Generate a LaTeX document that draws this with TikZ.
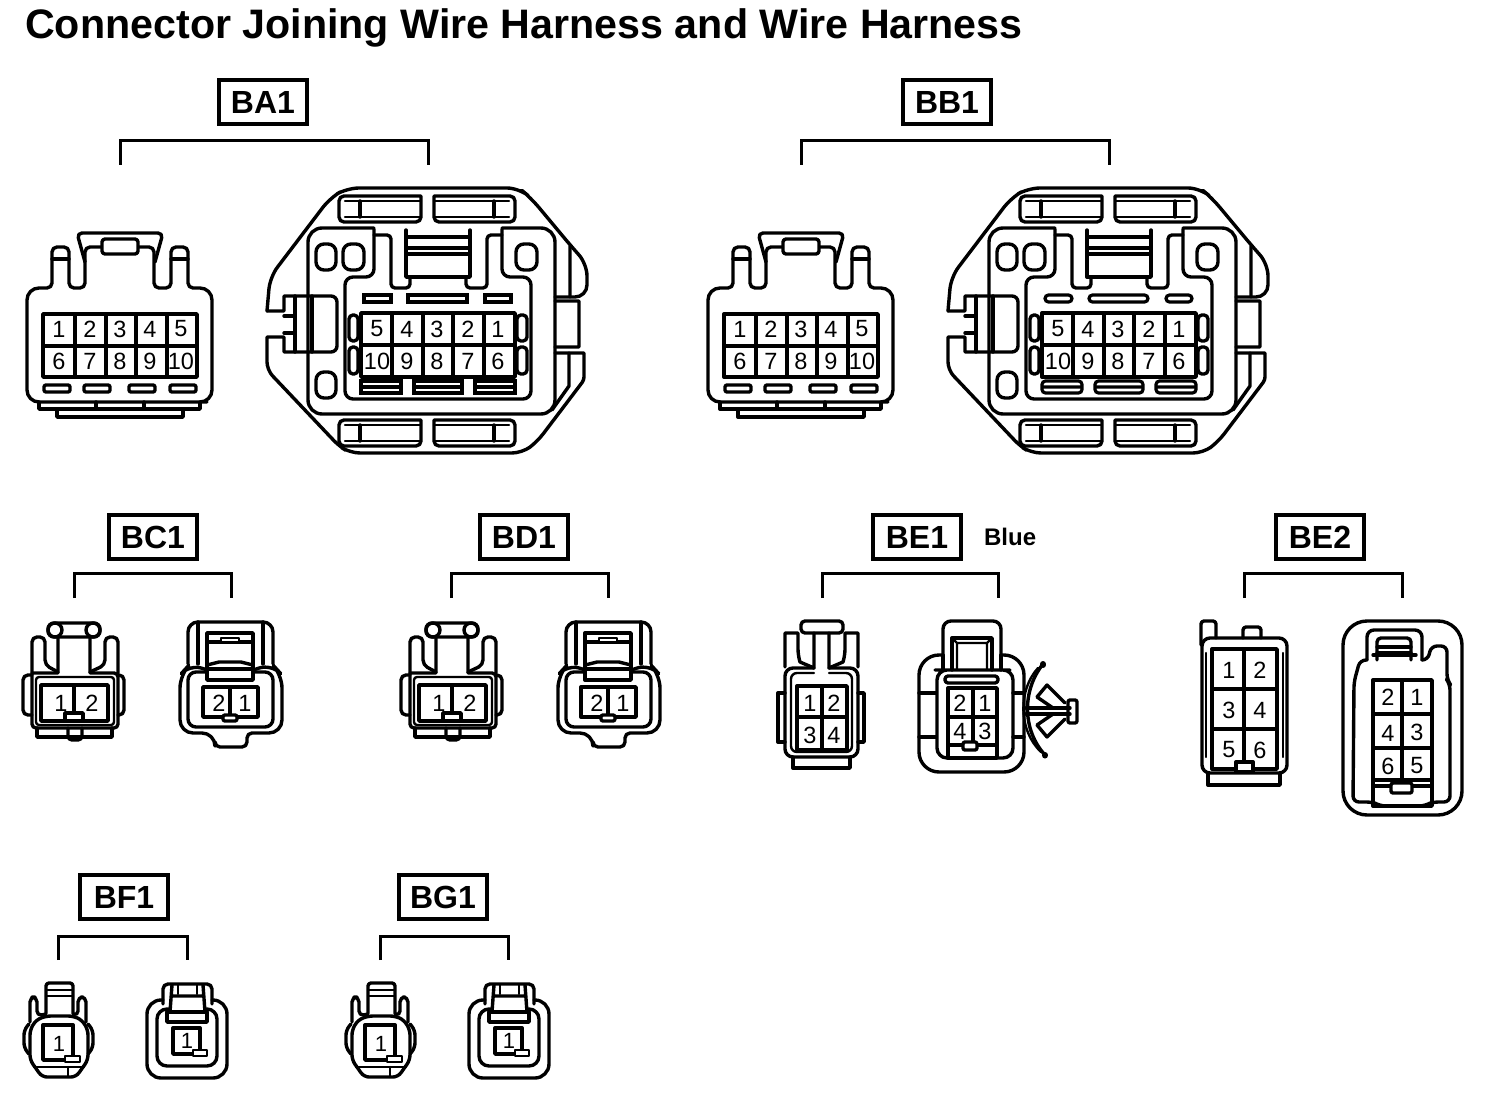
\documentclass[tikz,border=0pt]{standalone}
\usepackage{fontspec}
\setmainfont{Liberation Sans}
\usetikzlibrary{positioning}
\tikzset{
    hsg/.style={draw, line width=3.4pt, line join=round, line cap=round},
    thinhsg/.style={draw, line width=2.4pt, line join=round, line cap=round},
    slitbox/.style={draw, line width=3.2pt},
    pinlabel/.style={inner sep=0pt, font=\fontsize{23.5}{24}\selectfont},
    tagbox/.style={draw, line width=3.8pt, minimum width=88pt, minimum height=44pt, inner sep=0pt, font=\fontsize{32}{32}\selectfont\bfseries},
    % ten way plug, seen from the mating face
    tenplug/.pic={
        \draw[hsg] (44,402) [rounded corners=12] -- (27,402) -- (27,288) [rounded corners=5] -- (52,288) -- (52,247) -- (69,247) -- (69,288) -- (85,288) -- (85,247) -- (154,247) -- (154,288) -- (171,288) -- (171,247) -- (188,247) -- (188,288) [rounded corners=12] -- (212,288) -- (212,402) -- (195,402) [sharp corners] -- cycle;
        \draw[hsg, rounded corners=5] (85,262) -- (77,233) -- (163,233) -- (155,262);
        \draw[hsg, rounded corners=3, fill=white] (102,239) rectangle (138,254);
        \draw[hsg] (52,259) -- (69,259) (171,259) -- (188,259);
        \draw[hsg] (39,402) -- (39,409) -- (200,409) -- (200,402) (57,409) -- (57,417) -- (183,417) -- (183,409) (96,402) -- (96,409) (144,402) -- (144,409);
        \draw[hsg] (43,314) rectangle (197,377) (43,346) -- (197,346);
        \foreach \gridx in {75,106,136,167} \draw[hsg] (\gridx,314) -- (\gridx,377);
        \foreach \slitl in {44,84,129,170} \draw[hsg, rounded corners=2] (\slitl,385) rectangle +(26,7);
        \foreach \pinnum/\pinx/\piny in {1/59/329,2/90/329,3/120/329,4/150/329,5/181/329,6/59/361,7/90/361,8/120/361,9/150/361,10/181/361}
            \node[pinlabel] (pin\pinnum) at (\pinx,\piny) {\pinnum};
    },
    % ten way socket with its mounting frame
    tensocket/.pic={
        \draw[hsg] (267,311) -- (284,311) -- (284,296) [rounded corners=6] -- (337,296) -- (337,352) [sharp corners] -- (284,352) -- (284,337) -- (267,337) [rounded corners=8] -- (267,370) -- (339,446) [rounded corners=10] -- (350,453) -- (522,453) -- (537,442) [rounded corners=3] -- (584,380) [sharp corners] -- (584,353) -- (555,353);
        \draw[hsg, rounded corners=12] (555,297) -- (587,297) -- (587,264) -- (571,246) -- (531,198) -- (519,188) -- (347,188) -- (330,198) -- (270,277) -- (267,311);
        \draw[hsg] (555,301) -- (579,301) -- (579,347) -- (555,347) (570,246) -- (570,297) (569,353) -- (569,386) -- (552,410);
        \draw[hsg] (295,296) -- (295,352) (312,296) -- (312,352) (284,316) -- (295,316) (284,333) -- (295,333);
        % top and bottom clips
        \foreach \clipy in {196,420} {
            \draw[hsg, rounded corners=5] (421,\clipy) -- (339,\clipy) -- (339,\clipy+26) -- (421,\clipy+26) [sharp corners] -- cycle;
            \draw[hsg, rounded corners=5] (434,\clipy) -- (515,\clipy) -- (515,\clipy+26) -- (434,\clipy+26) [sharp corners] -- cycle;
            \draw[thinhsg] (345,\clipy+5) -- (421,\clipy+5) (345,\clipy+21) -- (421,\clipy+21) (434,\clipy+5) -- (509,\clipy+5) (434,\clipy+21) -- (509,\clipy+21);
            \draw[hsg] (360,\clipy+5) -- (360,\clipy+21) (494,\clipy+5) -- (494,\clipy+21);
        }
        % inner frame and housing
        \draw[hsg, rounded corners=14] (374,228) -- (308,228) -- (308,414) -- (555,414) -- (555,228) -- (502,228);
        \draw[hsg, rounded corners=8] (374,229) -- (374,277) -- (345,277) -- (345,399) -- (531,399) -- (531,277) -- (502,277) -- (502,229);
        \draw[hsg, rounded corners=4] (374,235) -- (391,235) -- (391,288) -- (410,288) -- (410,277);
        \draw[hsg, rounded corners=4] (466,277) -- (466,288) -- (487,288) -- (487,235) -- (502,235);
        \draw[hsg] (406,230) -- (406,277) -- (470,277) -- (470,230) (406,237) -- (470,237) (406,248) -- (470,248) (406,254) -- (470,254);
        \draw[hsg, rounded corners=8] (316,244) rectangle (336,270) (343,244) rectangle (364,270) (516,244) rectangle (537,270) (316,372) rectangle (336,398);
        \draw[slitbox, slitround] (364,295) rectangle (391,302) (408,295) rectangle (467,302) (485,295) rectangle (511,302);
        \draw[hsg, rounded corners=4] (349,315) rectangle (358,341) (349,347) rectangle (358,374) (517,315) rectangle (527,341) (517,347) rectangle (527,374);
        \foreach \slitl/\slitr in {361/401,414/462,475/515} \draw[slitbox, slitround] (\slitl,381) rectangle (\slitr,393) (\slitl,387) -- (\slitr,387);
        \draw[hsg] (361,313) rectangle (515,377) (361,345) -- (515,345);
        \foreach \gridx in {392,423,453,484} \draw[hsg] (\gridx,313) -- (\gridx,377);
        \foreach \pinnum/\pinx/\piny in {5/377/329,4/407/329,3/437/329,2/468/329,1/498/329,10/377/361,9/407/361,8/437/361,7/468/361,6/498/361}
            \node[pinlabel] (pin\pinnum) at (\pinx,\piny) {\pinnum};
    },
    % two way plug
    twoplug/.pic={
        \draw[hsg, rounded corners=6] (48,623) rectangle (100,637);
        \draw[hsg, fill=white] (55,630) circle (7) (93,630) circle (7);
        \draw[hsg] (58,637) -- (58,673) -- (32,673) [rounded corners=4] -- (32,728) -- (118,728) -- (118,673) [sharp corners] -- (90,673) -- (90,637);
        \draw[thinhsg, rounded corners=3] (36,677) rectangle (114,725);
        \draw[hsg, rounded corners=5] (32,673) -- (32,637) -- (45,637) -- (45,665) -- (58,672);
        \draw[hsg, rounded corners=5] (118,673) -- (118,637) -- (105,637) -- (105,665) -- (90,672);
        \draw[hsg, rounded corners=5] (32,675) -- (23,675) -- (23,715) -- (32,715);
        \draw[hsg, rounded corners=5] (118,675) -- (124,675) -- (124,715) -- (118,715);
        \draw[hsg] (37,728) -- (37,737) -- (112,737) -- (112,728);
        \draw[hsg, rounded corners=4] (68,728) -- (68,740) -- (82,740) -- (82,728);
        \draw[hsg] (41,685) rectangle (108,721) (74,685) -- (74,713);
        \draw[hsg, fill=white] (65,713) rectangle (83,721);
        \node[pinlabel] (pin1) at (61,703) {1};
        \node[pinlabel] (pin2) at (92,703) {2};
    },
    % two way socket
    twosocket/.pic={
        \draw[hsg, rounded corners=10] (188,664) -- (188,622) -- (273,622) -- (273,664);
        \draw[hsg, rounded corners=10] (198,664) -- (198,622) (263,622) -- (263,664);
        \draw[hsg, rounded corners=13] (207,670) -- (190,664) -- (180,675) -- (180,733) -- (215,733) [rounded corners=5] -- (215,747) -- (247,747) -- (247,733) [rounded corners=13] -- (282,733) -- (282,675) -- (272,664) -- (253,670);
        \draw[hsg, rounded corners=8] (207,672) -- (188,672) -- (188,727) -- (273,727) -- (273,672) -- (253,672);
        \draw[hsg] (207,633) rectangle (253,680) (207,642) -- (253,642) (207,669) -- (253,669);
        \draw[hsg] (207,665) -- (219,662) -- (241,662) -- (253,665);
        \draw[thinhsg, fill=white] (221,638) rectangle (239,642);
        \draw[hsg] (203,687) rectangle (258,717) (230,687) -- (230,717);
        \draw[hsg, rounded corners=2, fill=white] (223,715) rectangle (237,721);
        \node[pinlabel] (pin2) at (219,703) {2};
        \node[pinlabel] (pin1) at (245,703) {1};
    },
    % one way plug
    oneplug/.pic={
        \draw[hsg, rounded corners=3] (46,1013) -- (46,983) -- (73,983) -- (73,1013);
        \draw[thinhsg] (46,990) -- (73,990) (46,996) -- (73,996);
        \draw[hsg, rounded corners=5] (46,1014) -- (37,1016) -- (37,997) -- (30,997) -- (30,1022);
        \draw[hsg, rounded corners=5] (73,1014) -- (78,1016) -- (78,997) -- (86,997) -- (86,1022);
        \draw[hsg, rounded corners=5] (46,1016) -- (36,1020) -- (30,1030) -- (30,1060) -- (42,1077) -- (76,1077) -- (88,1060) -- (88,1030) -- (82,1020) -- (73,1016) -- cycle;
        \draw[hsg, rounded corners=5] (29,1024) -- (24,1030) -- (24,1048) -- (29,1054);
        \draw[hsg, rounded corners=5] (88,1024) -- (93,1030) -- (93,1048) -- (88,1054);
        \draw[thinhsg] (34,1067) -- (84,1067) (68,1067) -- (68,1077);
        \draw[hsg] (43,1025) rectangle (73,1060);
        \draw[thinhsg, fill=white] (65,1056) rectangle (80,1062);
        \node[pinlabel, font=\fontsize{22}{22}\selectfont] (pin1) at (59,1044) {1};
    },
    % one way socket
    onesocket/.pic={
        \draw[hsg, rounded corners=14] (163,1000) -- (147,1000) -- (147,1078) -- (227,1078) -- (227,1000) -- (212,1000);
        \draw[hsg, rounded corners=5] (163,1004) -- (163,984) -- (212,984) -- (212,1004);
        \draw[hsg, rounded corners=10] (170,1009) -- (157,1009) -- (157,1066) -- (217,1066) -- (217,1009) -- (205,1009);
        \draw[hsg] (172,985) -- (170,1012) (203,985) -- (205,1012) (172,996) -- (203,996);
        \draw[thinhsg] (178,985) -- (178,994) (197,985) -- (197,994);
        \draw[hsg] (167,1012) rectangle (207,1022);
        \draw[hsg] (173,1028) rectangle (200,1054);
        \draw[thinhsg, fill=white] (193,1050) rectangle (207,1056);
        \node[pinlabel, font=\fontsize{22}{22}\selectfont] (pin1) at (187,1041) {1};
    },
    slitround/.style={}
}
% tag with the bracket below it
\newcommand{\tagbracket}[8]{
    \node[tagbox] (#1) at (#3,#4) {#2};
    \coordinate (#1l) at (#5,#8);
    \coordinate (#1r) at (#6,#8);
    \coordinate (#1t) at (#5,#7);
    \draw[draw, line width=3pt] (#1l) -- (#1t) -- (#1t-|#1r) -- (#1r);
}

\begin{document}
\begin{tikzpicture}[x=1pt, y=-1pt]
    \useasboundingbox (0,0) rectangle (1504,1110);
    \fill[white] (0,0) rectangle (1504,1110);
    \node[anchor=west, inner sep=0pt, font=\fontsize{41.2}{41.2}\selectfont\bfseries] (title) at (25,28) {Connector Joining Wire Harness and Wire Harness};

    \tagbracket{ba1}{BA1}{263}{102}{120}{428}{141}{165}
    \tagbracket{bb1}{BB1}{947}{102}{801}{1109}{141}{165}
    \tagbracket{bc1}{BC1}{153}{537}{74}{231}{573}{598}
    \tagbracket{bd1}{BD1}{524}{537}{451}{608}{573}{598}
    \tagbracket{be1}{BE1}{917}{537}{822}{998}{573}{598}
    \tagbracket{be2}{BE2}{1320}{537}{1244}{1402}{573}{598}
    \tagbracket{bf1}{BF1}{124}{897}{58}{187}{936}{960}
    \tagbracket{bg1}{BG1}{443}{897}{380}{508}{936}{960}
    \node[inner sep=0pt, font=\fontsize{24}{24}\selectfont\bfseries, right=21pt of be1] (bluetag) {Blue};

    \pic (ba1plug) {tenplug};
    \pic (ba1socket) {tensocket};
    \begin{scope}[shift={(681,0)}, slitround/.style={rounded corners=3.5}]
        \pic (bb1plug) {tenplug};
        \pic (bb1socket) {tensocket};
    \end{scope}

    \pic (bc1plug) {twoplug};
    \pic (bc1socket) {twosocket};
    \begin{scope}[shift={(378,0)}]
        \pic (bd1plug) {twoplug};
        \pic (bd1socket) {twosocket};
    \end{scope}

    % BE1 plug
    \draw[hsg, rounded corners=4] (801,621) rectangle (843,633);
    \draw[hsg] (814,633) -- (814,668) -- (800,662) [rounded corners=6] -- (798,655) [sharp corners] -- (798,633) -- (785,633) -- (785,667);
    \draw[hsg] (829,633) -- (829,668) -- (843,662) [rounded corners=6] -- (845,655) [sharp corners] -- (845,633) -- (858,633) -- (858,667);
    \draw[hsg, rounded corners=8] (814,668) -- (785,668) -- (785,757) -- (858,757) -- (858,668) -- (829,668);
    \draw[thinhsg, rounded corners=6] (814,673) -- (791,673) -- (791,752) -- (852,752) -- (852,673) -- (829,673);
    \draw[hsg] (785,693) -- (778,693) -- (778,742) -- (785,742) (858,693) -- (864,693) -- (864,742) -- (858,742);
    \draw[hsg] (793,757) -- (793,768) -- (850,768) -- (850,757);
    \draw[hsg] (797,686) rectangle (847,750) (822,686) -- (822,750) (797,717) -- (847,717);
    \node[pinlabel] (be1pin1) at (810,703) {1};
    \node[pinlabel] (be1pin2) at (834,703) {2};
    \node[pinlabel] (be1pin3) at (810,735) {3};
    \node[pinlabel] (be1pin4) at (834,735) {4};

    % BE1 socket
    \draw[hsg, rounded corners=8] (943,660) -- (943,621) -- (1001,621) -- (1001,660);
    \draw[hsg] (952,670) -- (952,638) -- (992,638) -- (992,670);
    \draw[thinhsg] (957,670) -- (957,643) -- (987,643) -- (987,670) (957,643) -- (952,638) (987,643) -- (992,638);
    \draw[hsg, rounded corners=20] (943,655) -- (919,655) -- (919,772) -- (1024,772) -- (1024,655) -- (1001,655);
    \draw[hsg] (943,655) -- (943,670) (1001,655) -- (1001,670);
    \draw[hsg, rounded corners=10] (945,670) -- (937,670) -- (937,758) -- (1013,758) -- (1013,670) -- (1000,670) -- cycle;
    \draw[hsg] (919,693) -- (936,693) (919,737) -- (936,737) (1013,693) -- (1024,693) (1013,737) -- (1024,737);
    \draw[hsg, rounded corners=3] (945,676) rectangle (998,683);
    \draw[hsg] (948,688) rectangle (997,758) (973,688) -- (973,745) (948,717) -- (997,717) (948,745) -- (997,745);
    \draw[hsg, rounded corners=2, fill=white] (963,742) rectangle (977,750);
    \node[pinlabel] (be1pin2s) at (960,703) {2};
    \node[pinlabel] (be1pin1s) at (985,703) {1};
    \node[pinlabel] (be1pin4s) at (960,731) {4};
    \node[pinlabel] (be1pin3s) at (985,731) {3};
    \draw[hsg] (1043,664) .. controls (1022,690) and (1022,730) .. (1045,755);
    \draw[thinhsg] (1038,668) .. controls (1018,690) and (1018,730) .. (1041,752);
    \draw[line width=6pt, line cap=round] (1043,664) -- (1043,665) (1045,755) -- (1045,755.5);
    \draw[hsg] (1026,708) -- (1070,708) (1026,714) -- (1070,714);
    \draw[hsg, rounded corners=2] (1068,700) rectangle (1077,723);
    \draw[hsg] (1037,697) -- (1047,685) -- (1065,703) (1037,697) -- (1053,708) (1037,725) -- (1047,737) -- (1065,719) (1037,725) -- (1053,714);

    % BE2 plug
    \draw[hsg, rounded corners=3] (1201,645) -- (1201,621) -- (1216,621) -- (1216,638);
    \draw[hsg, rounded corners=3] (1243,638) -- (1243,627) -- (1261,627) -- (1261,638);
    \draw[hsg, rounded corners=8] (1202,638) rectangle (1287,773);
    \draw[thinhsg] (1206,653) -- (1206,757) (1283,653) -- (1283,757);
    \draw[hsg] (1208,773) -- (1208,785) -- (1280,785) -- (1280,773);
    \draw[hsg] (1212,649) rectangle (1277,769) (1244,649) -- (1244,769) (1212,689) -- (1277,689) (1212,729) -- (1277,729);
    \draw[hsg, fill=white] (1236,762) rectangle (1253,772);
    \node[pinlabel] (be2pin1) at (1229,670) {1};
    \node[pinlabel] (be2pin2) at (1260,670) {2};
    \node[pinlabel] (be2pin3) at (1229,710) {3};
    \node[pinlabel] (be2pin4) at (1260,710) {4};
    \node[pinlabel] (be2pin5) at (1229,750) {5};
    \node[pinlabel] (be2pin6) at (1260,750) {6};

    % BE2 socket
    \draw[hsg, rounded corners=24] (1343,621) rectangle (1462,815);
    \draw[hsg, rounded corners=7] (1367,660) -- (1367,630) -- (1422,630) -- (1422,660);
    \draw[hsg, rounded corners=4] (1377,660) -- (1377,638) -- (1411,638) -- (1411,660);
    \draw[hsg] (1373,655) -- (1416,655) (1377,647) -- (1411,647) (1377,653) -- (1411,653);
    \draw[hsg, rounded corners=6] (1367,660) -- (1360,660) -- (1354,682) -- (1353,802) -- (1373,802) -- (1380,806) -- (1425,806) -- (1432,802) -- (1450,802) -- (1450,684) -- (1447,680) -- (1447,646) -- (1431,646) -- (1428,660) -- (1422,660);
    \draw[hsg] (1373,680) rectangle (1432,806) (1402,680) -- (1402,780) (1373,714) -- (1432,714) (1373,748) -- (1432,748) (1373,780) -- (1432,780) (1373,786) -- (1432,786);
    \draw[hsg, rounded corners=2, fill=white] (1391,783) rectangle (1412,793);
    \node[pinlabel] (be2pin2s) at (1388,697) {2};
    \node[pinlabel] (be2pin1s) at (1417,697) {1};
    \node[pinlabel] (be2pin4s) at (1388,733) {4};
    \node[pinlabel] (be2pin3s) at (1417,732) {3};
    \node[pinlabel] (be2pin6s) at (1388,766) {6};
    \node[pinlabel] (be2pin5s) at (1417,766) {5};

    \pic (bf1plug) {oneplug};
    \pic (bf1socket) {onesocket};
    \begin{scope}[shift={(322,0)}]
        \pic (bg1plug) {oneplug};
        \pic (bg1socket) {onesocket};
    \end{scope}
\end{tikzpicture}
\end{document}
